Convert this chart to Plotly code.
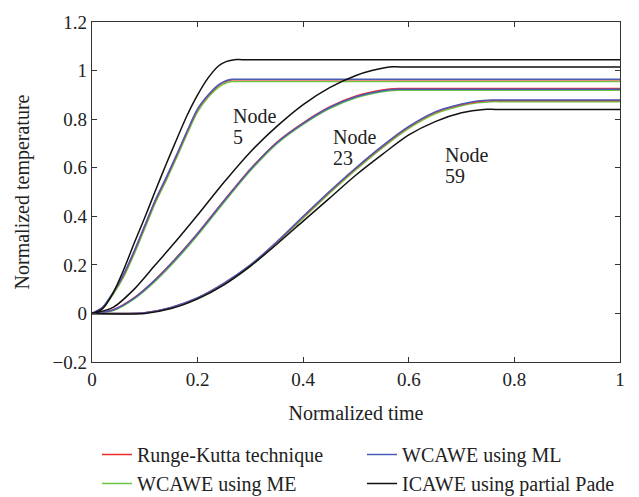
import plotly.graph_objects as go

# ---------------- data ----------------
# Node 5
t5 = [0, 0.02, 0.04, 0.06, 0.08, 0.10, 0.12, 0.14, 0.16, 0.18, 0.20, 0.22, 0.24, 0.255, 0.265, 0.28, 1.0]
rk5 = [0, 0.025, 0.085, 0.16, 0.255, 0.36, 0.465, 0.555, 0.65, 0.748, 0.84, 0.897, 0.94, 0.957, 0.962, 0.962, 0.962]
ml5 = [0, 0.025, 0.086, 0.162, 0.257, 0.362, 0.467, 0.557, 0.652, 0.75, 0.842, 0.899, 0.942, 0.959, 0.964, 0.964, 0.964]
me5 = [0, 0.02, 0.078, 0.15, 0.245, 0.35, 0.455, 0.545, 0.64, 0.738, 0.83, 0.89, 0.932, 0.95, 0.955, 0.955, 0.955]
tb5 = [0, 0.02, 0.04, 0.06, 0.08, 0.10, 0.12, 0.14, 0.16, 0.18, 0.20, 0.22, 0.24, 0.255, 0.27, 0.285, 1.0]
pa5 = [0, 0.02, 0.085, 0.18, 0.29, 0.395, 0.505, 0.612, 0.715, 0.815, 0.9, 0.97, 1.02, 1.038, 1.045, 1.045, 1.045]

# Node 23
t23 = [0, 0.04, 0.08, 0.12, 0.16, 0.20, 0.25, 0.30, 0.35, 0.40, 0.45, 0.50, 0.55, 0.58, 0.60, 1.0]
rk23 = [0, 0.015, 0.065, 0.14, 0.23, 0.33, 0.465, 0.595, 0.705, 0.785, 0.85, 0.895, 0.92, 0.926, 0.926, 0.926]
ml23 = [0, 0.014, 0.063, 0.138, 0.228, 0.328, 0.463, 0.593, 0.703, 0.783, 0.848, 0.892, 0.917, 0.923, 0.923, 0.923]
me23 = [0, 0.012, 0.06, 0.133, 0.222, 0.322, 0.457, 0.587, 0.698, 0.778, 0.843, 0.888, 0.913, 0.919, 0.919, 0.919]
tb23 = [0, 0.04, 0.08, 0.12, 0.16, 0.20, 0.25, 0.30, 0.35, 0.40, 0.45, 0.50, 0.53, 0.563, 0.585, 1.0]
pa23 = [0, 0.025, 0.10, 0.20, 0.30, 0.405, 0.54, 0.665, 0.77, 0.86, 0.93, 0.98, 1.0, 1.015, 1.015, 1.015]

# Node 59
t59 = [0, 0.06, 0.10, 0.15, 0.20, 0.25, 0.30, 0.35, 0.40, 0.45, 0.50, 0.55, 0.60, 0.65, 0.70, 0.73, 0.757, 0.78, 1.0]
rk59 = [0, 0, 0.003, 0.025, 0.064, 0.124, 0.199, 0.294, 0.398, 0.501, 0.598, 0.688, 0.768, 0.828, 0.86, 0.872, 0.877, 0.877, 0.877]
ml59 = [0, 0, 0.003, 0.025, 0.065, 0.125, 0.2, 0.295, 0.4, 0.503, 0.6, 0.69, 0.77, 0.83, 0.862, 0.875, 0.879, 0.879, 0.879]
me59 = [0, 0, 0.002, 0.022, 0.06, 0.12, 0.194, 0.288, 0.392, 0.495, 0.592, 0.682, 0.762, 0.822, 0.855, 0.867, 0.872, 0.872, 0.872]
tb59 = [0, 0.06, 0.10, 0.15, 0.20, 0.25, 0.30, 0.35, 0.40, 0.45, 0.50, 0.55, 0.60, 0.65, 0.70, 0.742, 0.765, 1.0]
pa59 = [0, -0.002, 0, 0.02, 0.06, 0.118, 0.195, 0.285, 0.38, 0.475, 0.57, 0.655, 0.735, 0.79, 0.826, 0.84, 0.84, 0.84]

series_names = ["Runge-Kutta technique", "WCAWE using ML", "WCAWE using ME", "ICAWE using partial Pade"]
x_ticks = [0, 0.2, 0.4, 0.6, 0.8, 1.0]
x_ticklabels = ["0", "0.2", "0.4", "0.6", "0.8", "1"]
y_ticks = [-0.2, 0, 0.2, 0.4, 0.6, 0.8, 1.0, 1.2]
y_ticklabels = ["\u22120.2", "0", "0.2", "0.4", "0.6", "0.8", "1", "1.2"]

node_labels = [("Node", "5", 0.263, 0.813, 0.727),
               ("Node", "23", 0.452, 0.727, 0.639),
               ("Node", "59", 0.664, 0.653, 0.564)]

# --------------- figure ---------------
FONT = "Liberation Serif"


def join(xs_list, ys_list):
    X, Y = [], []
    for xs, ys in zip(xs_list, ys_list):
        if X:
            X.append(None)
            Y.append(None)
        X += xs
        Y += ys
    return X, Y


fig = go.Figure()
specs = [
    (series_names[2], [t5, t23, t59], [me5, me23, me59], "#6cc445", 3),
    (series_names[0], [t5, t23, t59], [rk5, rk23, rk59], "#ee2a2a", 1),
    (series_names[1], [t5, t23, t59], [ml5, ml23, ml59], "#4a5db5", 2),
    (series_names[3], [tb5, tb23, tb59], [pa5, pa23, pa59], "#111111", 4),
]
for name, xs, ys, color, rank in specs:
    X, Y = join(xs, ys)
    fig.add_trace(go.Scatter(x=X, y=Y, mode="lines", name=name,
                             line=dict(color=color, width=1.5, shape="spline", smoothing=0.8),
                             legendrank=rank, connectgaps=False))

for top, bottom, xl, y1, y2 in node_labels:
    fig.add_annotation(x=xl, y=y1, text=top, showarrow=False, xanchor="left",
                       yanchor="middle", font=dict(family=FONT, size=20, color="#222"))
    fig.add_annotation(x=xl, y=y2, text=bottom, showarrow=False, xanchor="left",
                       yanchor="middle", font=dict(family=FONT, size=20, color="#222"))

axis_common = dict(showline=True, linecolor="#333", linewidth=1.3, mirror="ticks",
                   ticks="inside", ticklen=5, tickwidth=1.2, tickcolor="#333",
                   showgrid=False, zeroline=False,
                   tickfont=dict(family=FONT, size=19, color="#222"))

fig.update_xaxes(range=[0, 1], tickvals=x_ticks, ticktext=x_ticklabels,
                 title=dict(text="Normalized time", font=dict(family=FONT, size=20, color="#222"),
                            standoff=17),
                 **axis_common)
fig.update_yaxes(range=[-0.2, 1.2], tickvals=y_ticks, ticktext=y_ticklabels,
                 title=dict(text="Normalized temperature", font=dict(family=FONT, size=20, color="#222"),
                            standoff=17),
                 **axis_common)

fig.update_layout(
    width=639, height=497,
    margin=dict(l=92, r=19, t=19, b=135),
    plot_bgcolor="white", paper_bgcolor="white",
    font=dict(family=FONT, size=20, color="#222"),
    legend=dict(orientation="h", xref="container", yref="container",
                x=97 / 639, y=1 - 435 / 497, xanchor="left", yanchor="top",
                entrywidth=220, entrywidthmode="pixels",
                font=dict(family=FONT, size=20, color="#222"),
                bgcolor="rgba(0,0,0,0)", tracegroupgap=0, itemwidth=30),
    showlegend=True,
)

fig.write_html("out.html")
